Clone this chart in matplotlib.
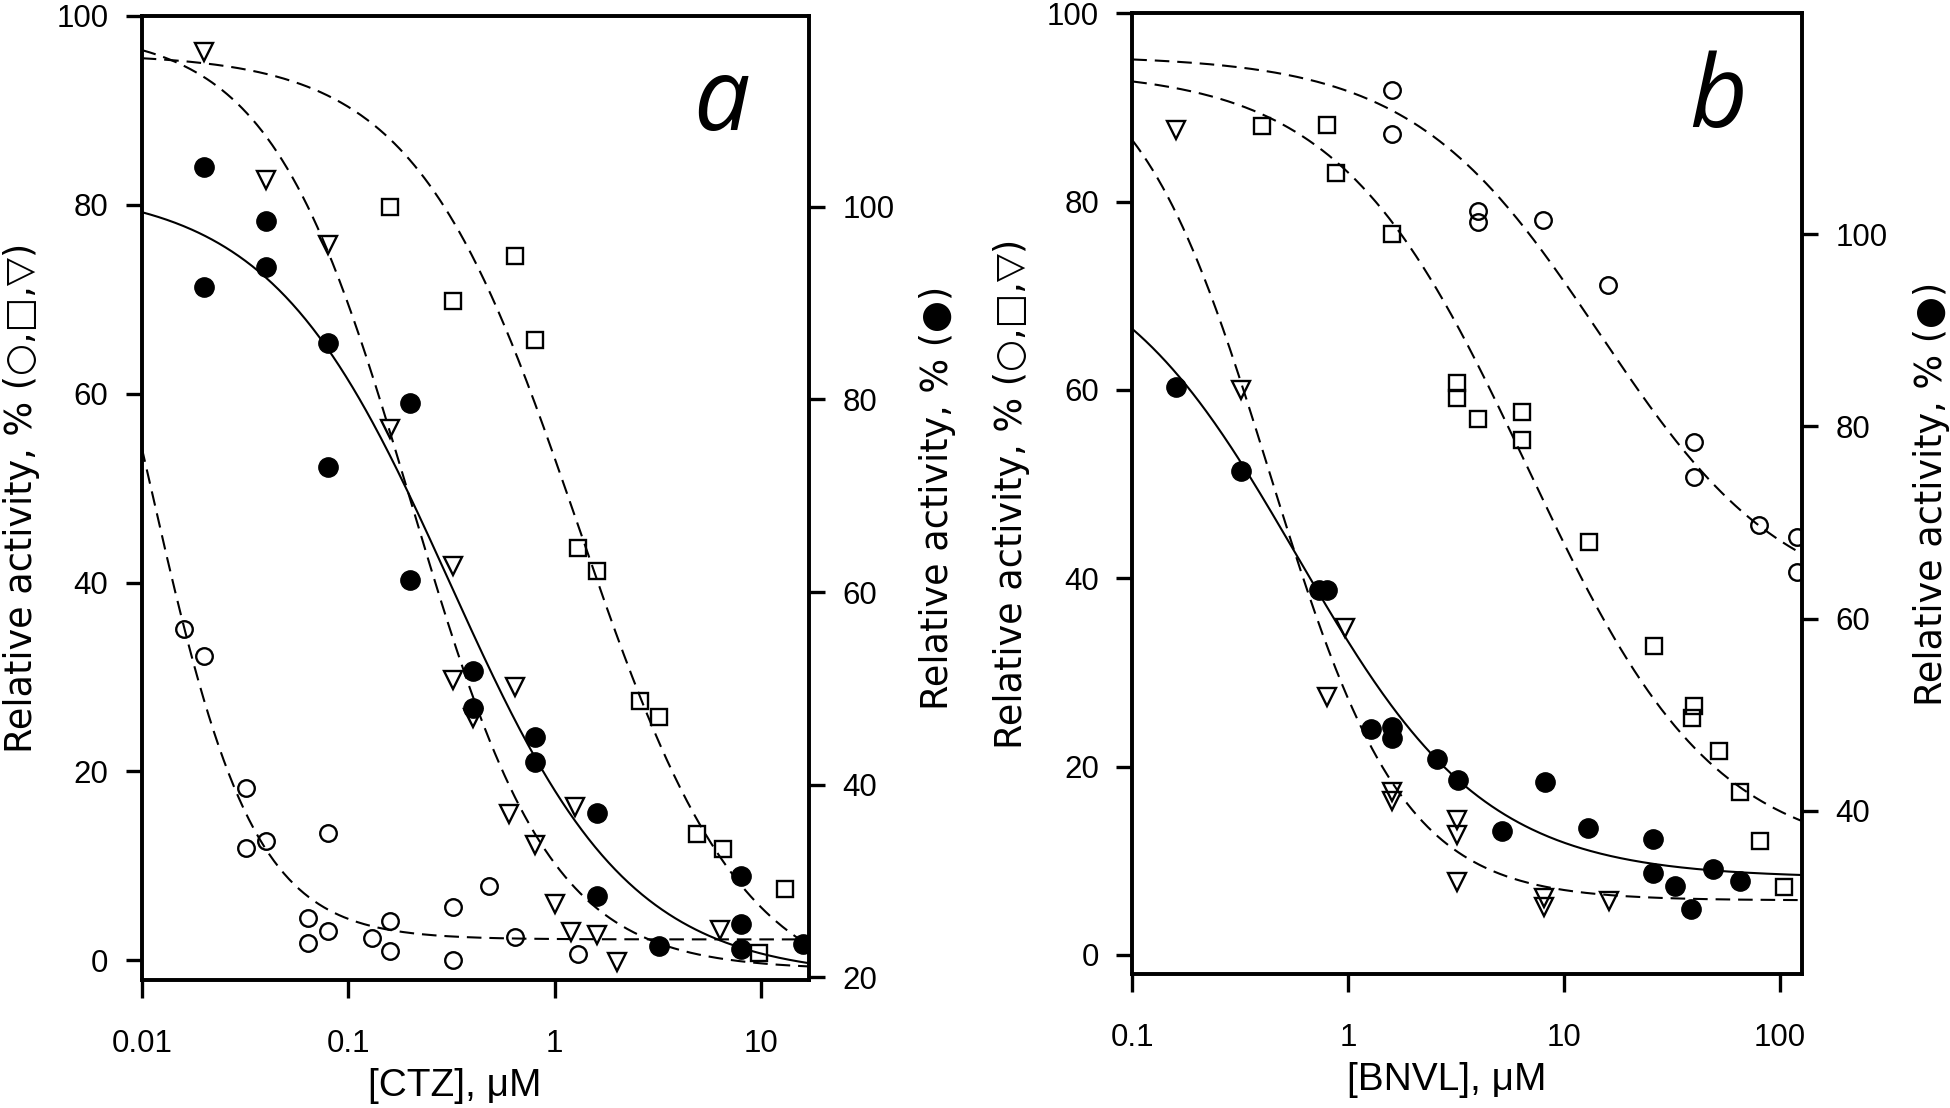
import numpy as np
import matplotlib
matplotlib.use("Agg")
import matplotlib.pyplot as plt
from matplotlib.ticker import NullLocator, FixedLocator, FixedFormatter

plt.rcParams['font.family'] = ['Liberation Sans', 'DejaVu Sans']

# ---------------- Panel a : [CTZ] ----------------
a_circ_x = [0.016, 0.02, 0.032, 0.032, 0.04, 0.064, 0.064, 0.08, 0.08, 0.13, 0.16, 0.16, 0.32, 0.32, 0.48, 0.64, 1.3]
a_circ_y = [35.1, 32.2, 18.2, 11.9, 12.6, 4.5, 1.8, 13.5, 3.1, 2.4, 4.2, 1.0, 5.6, 0.0, 7.9, 2.5, 0.7]

a_sq_x = [0.16, 0.32, 0.64, 0.8, 1.3, 1.6, 2.6, 3.2, 4.9, 6.5, 9.8, 13]
a_sq_y = [79.8, 69.8, 74.6, 65.7, 43.7, 41.2, 27.4, 25.8, 13.4, 11.8, 0.8, 7.5]

a_tri_x = [0.02, 0.04, 0.08, 0.16, 0.32, 0.32, 0.4, 0.6, 0.64, 0.8, 1.0, 1.2, 1.26, 1.6, 2.0, 6.3]
a_tri_y = [96.2, 82.6, 75.7, 56.3, 41.7, 29.7, 25.6, 15.5, 28.95, 12.2, 5.9, 3.0, 16.2, 2.65, -0.2, 3.2]

a_fill_x = [0.02, 0.02, 0.04, 0.04, 0.08, 0.08, 0.2, 0.2, 0.4, 0.4, 0.8, 0.8, 1.6, 1.6, 3.2, 8, 8, 8, 16]
a_fill_y = [104.1, 91.7, 98.5, 93.75, 85.8, 73.0, 79.6, 61.2, 51.8, 48.0, 44.9, 42.4, 37.1, 28.4, 23.2, 30.5, 25.5, 22.9, 23.5]

# fitted dose-response curves: (top, bottom, IC50, Hill slope)
a_circ_fit = (100.0, 2.2, 0.0108, 1.7)
a_sq_fit = (96.0, -4.0, 1.3, 1.1)
a_tri_fit = (98.5, -1.0, 0.2, 1.28)
a_fill_fit = (102.0, 20.0, 0.31, 1.0)

a_xticks = [0.01, 0.1, 1, 10]
a_xticklabels = ['0.01', '0.1', '1', '10']
a_yticks_left = [0, 20, 40, 60, 80, 100]
a_yticks_right = [20, 40, 60, 80, 100]

# ---------------- Panel b : [BNVL] ----------------
b_circ_x = [1.6, 1.6, 4, 4, 8, 16, 40, 40, 80, 120, 120]
b_circ_y = [91.9, 87.2, 79.0, 77.8, 78.0, 71.2, 54.5, 50.8, 45.7, 44.4, 40.7]

b_sq_x = [0.4, 0.8, 0.88, 1.6, 3.2, 3.2, 4.0, 6.4, 6.4, 13, 26, 40, 39, 52, 65, 81, 104]
b_sq_y = [88.0, 88.1, 83.0, 76.6, 60.7, 59.1, 56.9, 57.7, 54.7, 43.9, 32.8, 26.4, 25.2, 21.7, 17.3, 12.1, 7.2]

b_tri_x = [0.16, 0.32, 0.8, 0.97, 1.6, 1.6, 3.2, 3.2, 3.2, 8.1, 8.1, 16.2]
b_tri_y = [87.6, 60.0, 27.4, 34.7, 17.3, 16.3, 14.3, 12.7, 7.7, 6.0, 5.1, 5.7]

b_fill_x = [0.16, 0.32, 0.73, 0.8, 1.28, 1.6, 1.6, 2.57, 3.24, 5.18, 8.17, 12.9, 25.8, 25.8, 32.5, 38.7, 48.8, 65.1]
b_fill_y = [84.1, 75.4, 63.0, 63.0, 48.5, 48.7, 47.6, 45.35, 43.2, 37.9, 43.0, 38.2, 37.1, 33.5, 32.2, 29.8, 33.9, 32.7]

b_circ_fit = (95.5, 36.5, 14.6, 1.0)
b_sq_fit = (94.0, 10.0, 6.7, 1.0)
b_tri_fit = (97.0, 5.8, 0.43, 1.4)
b_fill_fit = (100.0, 33.0, 0.58, 1.0)

b_xticks = [0.1, 1, 10, 100]
b_xticklabels = ['0.1', '1', '10', '100']
b_yticks_left = [0, 20, 40, 60, 80, 100]
b_yticks_right = [40, 60, 80, 100]

ylabel_left = 'Relative activity, % (\u25cb,\u25a1,\u25bd)'
ylabel_right = 'Relative activity, % (\u25cf)'


def dose_response(x, p):
    top, bottom, ic50, hill = p
    return bottom + (top - bottom) / (1.0 + (x / ic50) ** hill)


LW = 1.5
DASH = (7.0, 3.8)
MEW = 1.7
TICK_FS = 22.5
LABEL_FS = 26.4
XLABEL_FS = 28
SPINE_LW = 2.6


def style_axis(ax):
    for s in ax.spines.values():
        s.set_linewidth(SPINE_LW)
    ax.tick_params(axis='y', which='major', direction='out', length=11.3, width=2.4,
                   pad=12.7, labelsize=TICK_FS)


def panel(fig, rect, xlim, ylim_l, ylim_r, xticks, xticklabels, ytl, ytr,
          circ, sq, tri, fill, fits, xlabel, letter, letter_xy):
    ax = fig.add_axes(rect)
    ax.set_xscale('log')
    ax.set_xlim(*xlim)
    ax.set_ylim(*ylim_l)
    ax2 = ax.twinx()
    ax2.set_ylim(*ylim_r)

    xs = np.logspace(np.log10(xlim[0]), np.log10(xlim[1]), 400)
    for p in fits[:3]:
        ax.plot(xs, dose_response(xs, p), color='black', lw=LW, ls=(0, DASH), zorder=2)
    ax2.plot(xs, dose_response(xs, fits[3]), color='black', lw=LW, ls='-', zorder=2)

    ax.plot(circ[0], circ[1], ls='none', marker='o', ms=11.9, mfc='none', mec='black', mew=MEW, zorder=3)
    ax.plot(sq[0], sq[1], ls='none', marker='s', ms=11.4, mfc='none', mec='black', mew=MEW, zorder=3)
    ax.plot(tri[0], tri[1], ls='none', marker='v', ms=12.6, mfc='none', mec='black', mew=MEW, zorder=3)
    ax2.plot(fill[0], fill[1], ls='none', marker='o', ms=13.9, mfc='black', mec='black', zorder=3)

    ax.xaxis.set_major_locator(FixedLocator(xticks))
    ax.xaxis.set_major_formatter(FixedFormatter(xticklabels))
    ax.xaxis.set_minor_locator(NullLocator())
    ax.set_yticks(ytl)
    ax2.set_yticks(ytr)
    ax.yaxis.set_minor_locator(NullLocator())
    ax2.yaxis.set_minor_locator(NullLocator())

    style_axis(ax)
    style_axis(ax2)
    ax.tick_params(axis='x', which='major', direction='out', length=13, width=2.4,
                   pad=22, labelsize=TICK_FS)
    ax.tick_params(top=False, right=False)
    ax2.tick_params(left=False)

    ax.set_ylabel(ylabel_left, family=['DejaVu Sans'], fontsize=LABEL_FS)
    ax2.set_ylabel(ylabel_right, family=['DejaVu Sans'], fontsize=LABEL_FS)
    ax.yaxis.set_label_coords(-0.152, 0.5)
    ax2.yaxis.set_label_coords(1.165, 0.5)
    ax.set_xlabel(xlabel, fontsize=XLABEL_FS)
    ax.xaxis.set_label_coords(0.469, -0.0913)

    fig.text(letter_xy[0], letter_xy[1], letter, ha='right', va='baseline',
             fontsize=72, style='italic', family=['Open Sans', 'DejaVu Sans'])
    return ax, ax2


fig = plt.figure(figsize=(19.5, 11.08), dpi=100)

panel(fig, [141.7 / 1950, 128 / 1108, 667.6 / 1950, 964 / 1108],
      (0.01, 17.1), (-2.1, 100), (19.72, 119.8),
      a_xticks, a_xticklabels, a_yticks_left, a_yticks_right,
      (a_circ_x, a_circ_y), (a_sq_x, a_sq_y), (a_tri_x, a_tri_y), (a_fill_x, a_fill_y),
      (a_circ_fit, a_sq_fit, a_tri_fit, a_fill_fit),
      '[CTZ], \u03bcM', 'a', (750 / 1950, 1 - 130 / 1108))

panel(fig, [1132.3 / 1950, 133.7 / 1108, 670 / 1950, 961 / 1108],
      (0.1, 127), (-2.05, 100), (22.97, 123.0),
      b_xticks, b_xticklabels, b_yticks_left, b_yticks_right,
      (b_circ_x, b_circ_y), (b_sq_x, b_sq_y), (b_tri_x, b_tri_y), (b_fill_x, b_fill_y),
      (b_circ_fit, b_sq_fit, b_tri_fit, b_fill_fit),
      '[BNVL], \u03bcM', 'b', (1747 / 1950, 1 - 127 / 1108))

fig.savefig('out.png', dpi=100)
